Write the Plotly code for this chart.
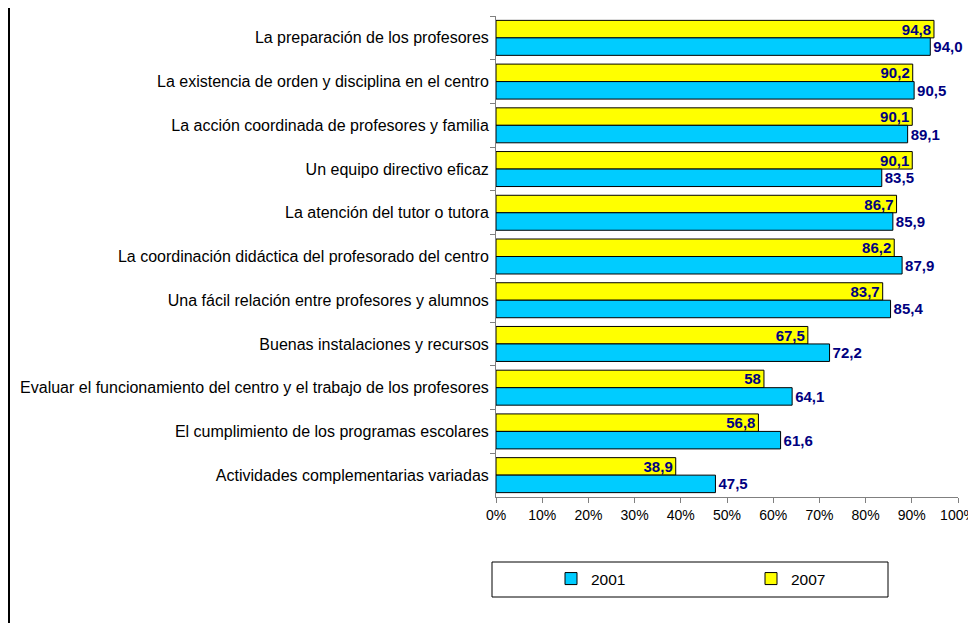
import plotly.graph_objects as go

categories = [
    "La preparación de los profesores",
    "La existencia de orden y disciplina en el centro",
    "La acción coordinada de profesores y familia",
    "Un equipo directivo eficaz",
    "La atención del tutor o tutora",
    "La coordinación didáctica del profesorado del centro",
    "Una fácil relación entre profesores y alumnos",
    "Buenas instalaciones y recursos",
    "Evaluar el funcionamiento del centro y el trabajo de los profesores",
    "El cumplimiento de los programas escolares",
    "Actividades complementarias variadas",
]
v2001 = [94.0, 90.5, 89.1, 83.5, 85.9, 87.9, 85.4, 72.2, 64.1, 61.6, 47.5]
v2007 = [94.8, 90.2, 90.1, 90.1, 86.7, 86.2, 83.7, 67.5, 58, 56.8, 38.9]

lab2001 = [f"<b>{v:.1f}</b>".replace(".", ",") for v in v2001]
lab2007 = [f"<b>{v:g}</b>".replace(".", ",") for v in v2007]

navy = "#000080"
fig = go.Figure()
fig.add_trace(go.Bar(
    y=categories, x=v2007, name="2007", orientation="h",
    marker=dict(color="#FFFF00", line=dict(color="black", width=1)),
    text=lab2007, textposition="inside", insidetextanchor="end",
    textfont=dict(color=navy, size=15, family="Liberation Sans"),
    textangle=0, cliponaxis=False, legendrank=2,
))
fig.add_trace(go.Bar(
    y=categories, x=v2001, name="2001", orientation="h",
    marker=dict(color="#00CCFF", line=dict(color="black", width=1)),
    text=lab2001, textposition="outside",
    textfont=dict(color=navy, size=15, family="Liberation Sans"),
    textangle=0, cliponaxis=False, legendrank=1,
))

# page body adds an 8px offset; positions below are given in screen pixels
OFF = 8
W, H = 976, 623
L, R, T, B = 488, 26, 8, 134
pw, ph = W - L - R, H - T - B

def px(x):
    return (x - OFF - L) / pw

def py(y):
    return (H - B - (y - OFF)) / ph

fig.update_layout(
    width=W, height=H,
    margin=dict(l=L, r=R, t=T, b=B, autoexpand=False),
    paper_bgcolor="white", plot_bgcolor="white",
    font=dict(family="Liberation Sans, Arial", size=12, color="black"),
    barmode="group", bargap=0.2, bargroupgap=0,
    uniformtext=dict(minsize=15, mode="show"),
    xaxis=dict(
        range=[0, 100], dtick=10, ticksuffix="%", showgrid=False, zeroline=False,
        showline=True, linecolor="#808080", ticks="outside", tickcolor="#808080",
        ticklen=5, tickfont=dict(size=14),
    ),
    yaxis=dict(
        autorange="reversed", showgrid=False, showline=True, linecolor="#808080",
        ticks="outside", tickcolor="#808080", ticklen=5, tickson="boundaries",
        tickfont=dict(size=16), ticklabelstandoff=3,
    ),
    legend=dict(
        orientation="h", xref="container", yref="container",
        x=(551 - OFF) / W, y=1 - (562 - OFF) / H, xanchor="left", yanchor="top",
        entrywidth=155, bgcolor="rgba(0,0,0,0)", font=dict(size=15.5),
    ),
    shapes=[
        dict(type="rect", xref="paper", yref="paper",
             x0=px(492), x1=px(888), y0=py(597), y1=py(562),
             line=dict(color="black", width=1), fillcolor="white", layer="below"),
        dict(type="line", xref="paper", yref="paper",
             x0=px(OFF + 1), x1=px(OFF + 1), y0=py(OFF), y1=py(H + OFF),
             line=dict(color="black", width=2)),
    ],
)

fig.write_html("out.html")
